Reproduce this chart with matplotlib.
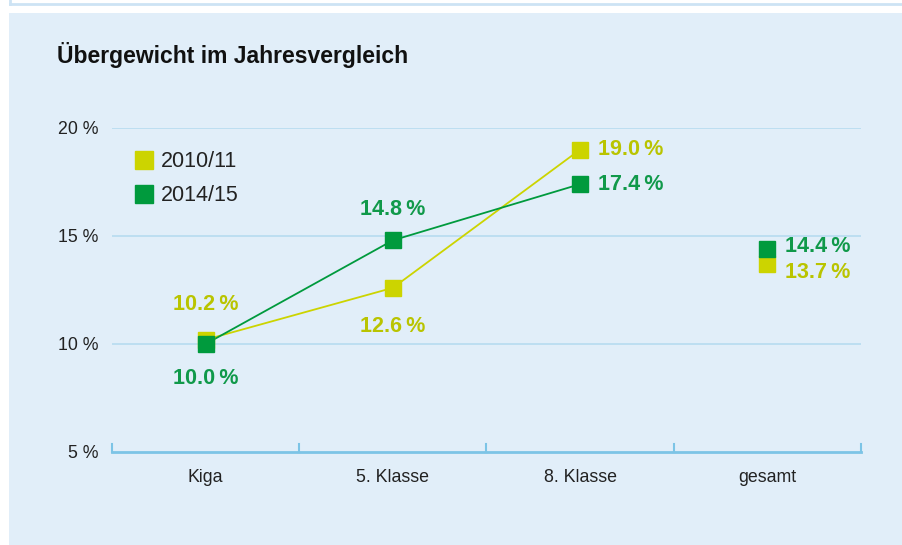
import matplotlib.pyplot as plt
from matplotlib.patches import Rectangle
from matplotlib.lines import Line2D

plt.rcParams['font.family'] = ['Liberation Sans', 'DejaVu Sans']

categories = ['Kiga', '5. Klasse', '8. Klasse', 'gesamt']
years = ['2010/11', '2014/15']
vals_2010 = [10.2, 12.6, 19.0, 13.7]
vals_2014 = [10.0, 14.8, 17.4, 14.4]
yticks = [5, 10, 15, 20]

yellow = '#ccd400'
yellow_txt = '#b9c400'
green = '#009a3d'
green_txt = '#10994a'
panel = '#e1eef9'
grid = '#b6dbf0'
axis_blue = '#7cc4e6'

fig = plt.figure(figsize=(9.03, 5.45), dpi=100, facecolor='white')

# background panel + top strip
fig.patches.append(Rectangle((9 / 903, 0), 1, 1 - 13 / 545, transform=fig.transFigure,
                             facecolor=panel, edgecolor='none', zorder=-10))
fig.lines.append(Line2D([10 / 903, 1], [1 - 4 / 545, 1 - 4 / 545], transform=fig.transFigure,
                        color='#cde3f4', lw=2))
fig.lines.append(Line2D([10 / 903, 10 / 903], [1, 1 - 4 / 545], transform=fig.transFigure,
                        color='#cde3f4', lw=2))

ax = fig.add_axes([112 / 903, 1 - 452 / 545, 749 / 903, 324 / 545])
ax.set_facecolor('none')
ax.set_xlim(-0.5, 3.5)
ax.set_ylim(5, 20)

for y in yticks[1:]:
    ax.axhline(y, color=grid, lw=1.2, zorder=0)

for s in ax.spines.values():
    s.set_visible(False)
ax.axhline(5, color=axis_blue, lw=2, zorder=1, clip_on=False)
for xt in [-0.5, 0.5, 1.5, 2.5, 3.5]:
    ax.plot([xt, xt], [5, 5.35], color=axis_blue, lw=1.5, clip_on=False, zorder=1)

x = list(range(len(categories)))
ax.plot(x[:3], vals_2010[:3], color=yellow, lw=1.3, zorder=2)
ax.plot(x[:3], vals_2014[:3], color=green, lw=1.3, zorder=3)
ax.plot(x, vals_2010, 's', color=yellow, ms=12, ls='none', zorder=4, clip_on=False)
ax.plot(x, vals_2014, 's', color=green, ms=12, ls='none', zorder=5, clip_on=False)

ax.set_xticks(x)
ax.set_xticklabels(categories, fontsize=12.8, color='#222222')
ax.set_yticks(yticks)
ax.set_yticklabels([f'{v} %' for v in yticks], fontsize=12.8, color='#222222')
ax.tick_params(axis='x', length=0, pad=12)
ax.tick_params(axis='y', length=0, pad=10)

def lbl(v):
    return f'{v:.1f}\u2009%'

# label positions (offset in points)
off_2010 = [(0, 25, 'center'), (0, -28, 'center'), (13, 0, 'left'), (13, -6, 'left')]
off_2014 = [(0, -25, 'center'), (0, 22, 'center'), (13, 0, 'left'), (13, 2, 'left')]
for i in x:
    dx, dy, ha = off_2010[i]
    ax.annotate(lbl(vals_2010[i]), (i, vals_2010[i]), xytext=(dx, dy), textcoords='offset points',
                ha=ha, va='center', fontsize=15.5, fontweight='bold', color=yellow_txt)
    dx, dy, ha = off_2014[i]
    ax.annotate(lbl(vals_2014[i]), (i, vals_2014[i]), xytext=(dx, dy), textcoords='offset points',
                ha=ha, va='center', fontsize=15.5, fontweight='bold', color=green_txt)

handles = [Line2D([], [], marker='s', color=c, ls='none', ms=13) for c in [yellow, green]]
ax.legend(handles, years, loc='upper left', bbox_to_anchor=(117 / 903, 1 - 132 / 545),
          bbox_transform=fig.transFigure, frameon=False, fontsize=15.5, handlelength=0.7,
          handletextpad=0.45, labelspacing=0.6, labelcolor='#222222')

fig.text(57 / 903, 1 - 55 / 545, 'Übergewicht im Jahresvergleich', fontsize=16.5,
         fontweight='bold', color='#111111', va='center', ha='left')

fig.savefig('out.png', dpi=100)
